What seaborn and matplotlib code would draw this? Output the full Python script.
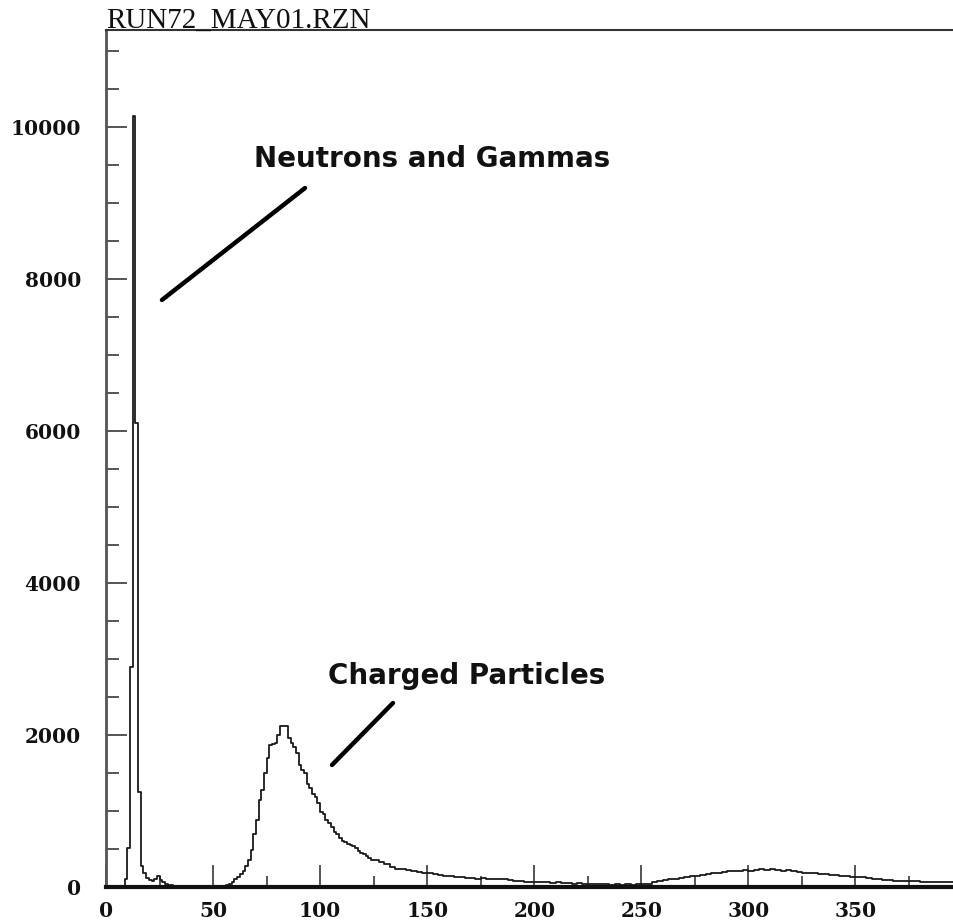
import numpy as np
import pandas as pd
import matplotlib
matplotlib.use("Agg")
import matplotlib.pyplot as plt
import seaborn as sns

# ---------------- data ----------------
title_text = "RUN72_MAY01.RZN"
label_neutrons = "Neutrons and Gammas"
label_charged = "Charged Particles"

fine_bin_width = 1.25      # channels 0 .. 125
tail_bin_width = 2.5       # channels 125 .. 397.5

fine_counts = [
    0, 0, 0, 0, 0, 0, 0,
    110, 510, 2900, 10150, 6100, 1250, 280, 180, 120, 90, 80, 100, 150,
    90, 60, 40, 30, 20, 10,
    5, 0, 0, 0, 0, 0, 0, 0, 0, 0, 0, 0, 0, 0, 0, 0, 0, 5,
    10, 25, 45, 70,
    100, 136, 170, 210, 270, 355, 490, 700, 880, 1145,
    1280, 1500, 1700, 1870, 1880, 1890, 2000, 2120, 2120, 2120,
    1960, 1900, 1840, 1760, 1600, 1540, 1500, 1360, 1300, 1220,
    1180, 1100, 990, 960, 880, 840, 790, 730, 700, 650,
    600, 590, 570, 550, 540, 510, 480, 450, 440, 410,
    380, 360,
]

tail_counts = [
    350, 335, 300, 260, 235, 240, 225, 215, 200, 190,
    185, 170, 160, 150, 145, 135, 125, 115, 115, 110,
    115, 105, 100, 105, 100, 90, 80, 75, 70, 72,
    65, 70, 60, 55, 60, 50, 55, 45, 50, 40,
    45, 40, 35, 40, 30, 35, 30, 35, 30, 35,
    40, 45, 60, 75, 90, 100, 110, 120, 130, 140,
    150, 160, 170, 180, 185, 195, 205, 215, 210, 225,
    215, 230, 235, 220, 235, 225, 215, 220, 205, 200,
    190, 185, 180, 175, 170, 160, 155, 150, 140, 135,
    130, 125, 115, 110, 100, 95, 90, 85, 80, 80,
    75, 75, 70, 70, 65, 65, 60, 60, 60,
]

x_ticks = [0, 50, 100, 150, 200, 250, 300, 350]
y_ticks = [0, 2000, 4000, 6000, 8000, 10000]

# ---------------- build bins ----------------
fine_edges = np.arange(len(fine_counts) + 1) * fine_bin_width
tail_edges = fine_edges[-1] + np.arange(1, len(tail_counts) + 1) * tail_bin_width
edges = np.concatenate([fine_edges, tail_edges])
counts = np.array(fine_counts + tail_counts, dtype=float)
centers = (edges[:-1] + edges[1:]) / 2
df = pd.DataFrame({"channel": centers, "counts": counts})

# ---------------- figure ----------------
sns.set_style("ticks")
plt.rcParams["font.family"] = ["DejaVu Serif", "Liberation Serif"]

W, H = 954, 924
fig = plt.figure(figsize=(W / 100, H / 100), dpi=100)
ax_left, ax_bottom_px, ax_top_px = 106, 887, 30
ax = fig.add_axes([ax_left / W, (H - ax_bottom_px) / H,
                   (W - ax_left) / W, (ax_bottom_px - ax_top_px) / H])

sns.histplot(data=df, x="channel", weights="counts", bins=[float(e) for e in edges],
             element="step", fill=False, color="#1a1a1a", linewidth=1.3,
             ax=ax)

ax.set_xlim(0, 396)
ax.set_ylim(0, 11276)
ax.set_xlabel("")
ax.set_ylabel("")

ax.set_xticks(x_ticks)
ax.set_xticks(np.arange(25, 400, 50), minor=True)
ax.set_yticks(y_ticks)
ax.set_yticks(sorted(set(np.arange(0, 11276, 500)) - set(y_ticks)), minor=True)

ax.tick_params(axis="both", which="both", bottom=True, left=True,
               top=False, right=False)
ax.tick_params(axis="y", which="major", direction="in", length=15, width=1.4,
               color="#555555", pad=18, labelsize=14.5)
ax.tick_params(axis="y", which="minor", direction="in", length=9.5, width=1.4,
               color="#555555")
ax.tick_params(axis="x", which="major", direction="in", length=15.5, width=1.4,
               color="#555555", pad=10, labelsize=14.5)
ax.tick_params(axis="x", which="minor", direction="in", length=8, width=1.4,
               color="#555555")
for lab in ax.get_xticklabels() + ax.get_yticklabels():
    lab.set_fontweight("bold")
    lab.set_color("#111111")

ax.spines["right"].set_visible(False)
ax.spines["left"].set_color("#555555")
ax.spines["left"].set_linewidth(2.0)
ax.spines["top"].set_color("#333333")
ax.spines["top"].set_linewidth(1.5)
ax.spines["bottom"].set_color("#111111")
ax.spines["bottom"].set_linewidth(3.0)

# title above the top frame line, left aligned
ax.text(0.0, 1.003, title_text, transform=ax.transAxes, ha="left",
        va="baseline", fontsize=21, color="#111111",
        family=["Liberation Serif", "DejaVu Serif"])

# annotations (lines in axes-fraction coordinates)
ax.annotate("", xy=(0.066, 0.685), xytext=(0.2347, 0.8156),
            xycoords="axes fraction", textcoords="axes fraction",
            arrowprops=dict(arrowstyle="-", lw=3.2, color="black",
                            shrinkA=0, shrinkB=0))
ax.text(0.3844, 0.8495, label_neutrons, transform=ax.transAxes,
        ha="center", va="center", fontsize=20, fontweight="bold",
        family=["DejaVu Sans", "Liberation Sans"], color="#111111")

ax.annotate("", xy=(0.2665, 0.1424), xytext=(0.3384, 0.2147),
            xycoords="axes fraction", textcoords="axes fraction",
            arrowprops=dict(arrowstyle="-", lw=3.2, color="black",
                            shrinkA=0, shrinkB=0))
ax.text(0.4257, 0.2462, label_charged, transform=ax.transAxes,
        ha="center", va="center", fontsize=20, fontweight="bold",
        family=["DejaVu Sans", "Liberation Sans"], color="#111111")

fig.savefig("out.png", dpi=100, facecolor="white")
